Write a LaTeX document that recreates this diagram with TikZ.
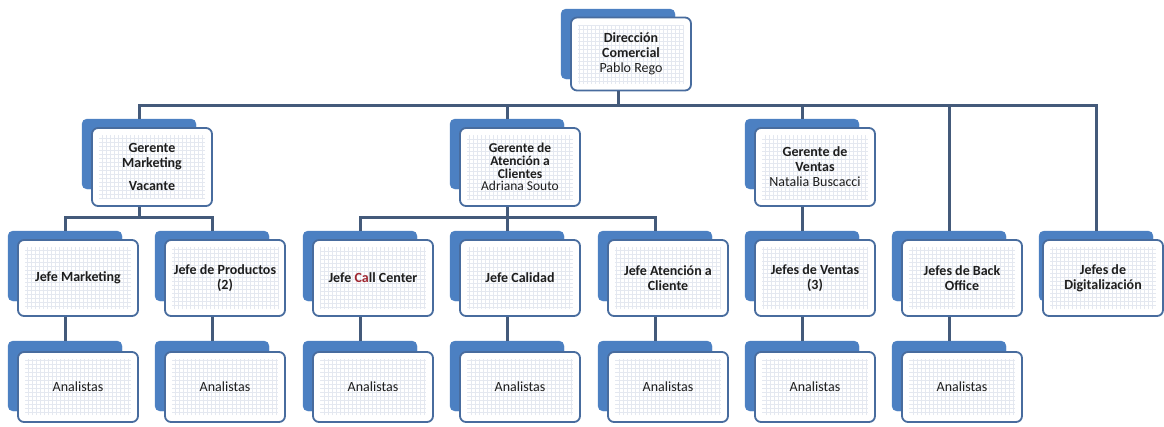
\documentclass[tikz,border=0pt]{standalone}
\usepackage{fontspec}
\setmainfont{Carlito}
\usepackage{tikz}
\definecolor{cardblue}{RGB}{76,128,194}
\definecolor{edgeblue}{RGB}{72,108,158}
\definecolor{linegray}{RGB}{68,90,122}
\definecolor{gridgray}{RGB}{228,232,240}
\definecolor{txtgray}{RGB}{30,30,30}
\definecolor{callred}{RGB}{160,40,50}

\begin{document}
\begin{tikzpicture}[x=1pt,y=-1pt,
  back/.style={draw=cardblue,fill=cardblue,rounded corners=5pt,minimum width=114pt,minimum height=70pt,inner sep=0pt},
  card/.style={draw=edgeblue,line width=1.8pt,fill=white,rounded corners=6pt,minimum width=120pt,minimum height=76pt,inner sep=2pt,align=center,text=txtgray,font=\fontsize{14}{15}\selectfont,
    path picture={\draw[gridgray,line width=.4pt] ([shift={(7pt,7pt)}]path picture bounding box.south west) grid[step=4pt] ([shift={(-7pt,-7pt)}]path picture bounding box.north east);}},
  anacard/.style={card,minimum height=70pt},
  conn/.style={draw=linegray,line width=3pt}]
\useasboundingbox (0,0) rectangle (1164,426);
% top
\node at (618,44) [back] (Dir) {};
\node at (631,54) [card,minimum height=73pt] (DirF) {\textbf{Dirección}\\\textbf{Comercial}\\Pablo Rego};
% gerentes
\node at (139,154) [back] (GerMkt) {};
\node at (152,167) [card,minimum height=78pt] (GerMktF) {\textbf{Gerente}\\\textbf{Marketing}\\[8pt]\textbf{Vacante}};
\node at (507,154) [back] (GerAte) {};
\node at (520,167) [card,minimum height=78pt,font=\fontsize{13.5}{12.8}\selectfont] (GerAteF) {\textbf{Gerente de}\\\textbf{Atención a}\\\textbf{Clientes}\\Adriana Souto};
\node at (802,154) [back] (GerVen) {};
\node at (815,167) [card,minimum height=78pt] (GerVenF) {\textbf{Gerente de}\\\textbf{Ventas}\\Natalia Buscacci};
% jefes
\node at (65,266) [back] (JefMkt) {};
\node at (78,278) [card] (JefMktF) {\textbf{Jefe Marketing}};
\node at (212,266) [back] (JefProd) {};
\node at (225,278) [card] (JefProdF) {\textbf{Jefe de Productos}\\\textbf{(2)}};
\node at (360,266) [back] (JefCall) {};
\node at (373,278) [card] (JefCallF) {\textbf{Jefe {\color{callred}Ca}ll Center}};
\node at (507,266) [back] (JefCal) {};
\node at (520,278) [card] (JefCalF) {\textbf{Jefe Calidad}};
\node at (655,266) [back] (JefAte) {};
\node at (668,278) [card] (JefAteF) {\textbf{Jefe Atención a}\\\textbf{Cliente}};
\node at (802,266) [back] (JefVen) {};
\node at (815,278) [card] (JefVenF) {\textbf{Jefes de Ventas}\\\textbf{(3)}};
\node at (949,266) [back] (JefBack) {};
\node at (962,278) [card] (JefBackF) {\textbf{Jefes de Back}\\\textbf{Office}};
\node at (1096,266) [back] (JefDig) {};
\node at (1103,278) [card] (JefDigF) {\textbf{Jefes de}\\\textbf{Digitalización}};
% analistas
\node at (65,376) [back] (AnaMkt) {};
\node at (78,387) [anacard] (AnaMktF) {Analistas};
\node at (212,376) [back] (AnaProd) {};
\node at (225,387) [anacard] (AnaProdF) {Analistas};
\node at (360,376) [back] (AnaCall) {};
\node at (373,387) [anacard] (AnaCallF) {Analistas};
\node at (507,376) [back] (AnaCal) {};
\node at (520,387) [anacard] (AnaCalF) {Analistas};
\node at (655,376) [back] (AnaAte) {};
\node at (668,387) [anacard] (AnaAteF) {Analistas};
\node at (802,376) [back] (AnaVen) {};
\node at (815,387) [anacard] (AnaVenF) {Analistas};
\node at (949,376) [back] (AnaBack) {};
\node at (962,387) [anacard] (AnaBackF) {Analistas};
% lineas
\coordinate (Bus) at (618,105);
\coordinate (SubMkt) at (139,217);
\coordinate (SubAte) at (507,217);
\draw[conn] (DirF.south -| Dir) -- (Bus);
\draw[conn] (GerMkt.north) |- (Bus) -| (JefDig.north);
\draw[conn] (Bus -| GerAte) -- (GerAte.north);
\draw[conn] (Bus -| GerVen) -- (GerVen.north);
\draw[conn] (Bus -| JefBack) -- (JefBack.north);
\draw[conn] (GerMktF.south -| GerMkt) -- (SubMkt);
\draw[conn] (JefMkt.north) |- (SubMkt) -| (JefProd.north);
\draw[conn] (GerAteF.south -| GerAte) -- (SubAte);
\draw[conn] (JefCall.north) |- (SubAte) -| (JefAte.north);
\draw[conn] (SubAte) -- (JefCal.north);
\draw[conn] (GerVenF.south -| GerVen) -- (JefVen.north);
\draw[conn] (JefMktF.south -| JefMkt) -- (AnaMkt.north);
\draw[conn] (JefProdF.south -| JefProd) -- (AnaProd.north);
\draw[conn] (JefCallF.south -| JefCall) -- (AnaCall.north);
\draw[conn] (JefCalF.south -| JefCal) -- (AnaCal.north);
\draw[conn] (JefAteF.south -| JefAte) -- (AnaAte.north);
\draw[conn] (JefVenF.south -| JefVen) -- (AnaVen.north);
\draw[conn] (JefBackF.south -| JefBack) -- (AnaBack.north);
\end{tikzpicture}
\end{document}
